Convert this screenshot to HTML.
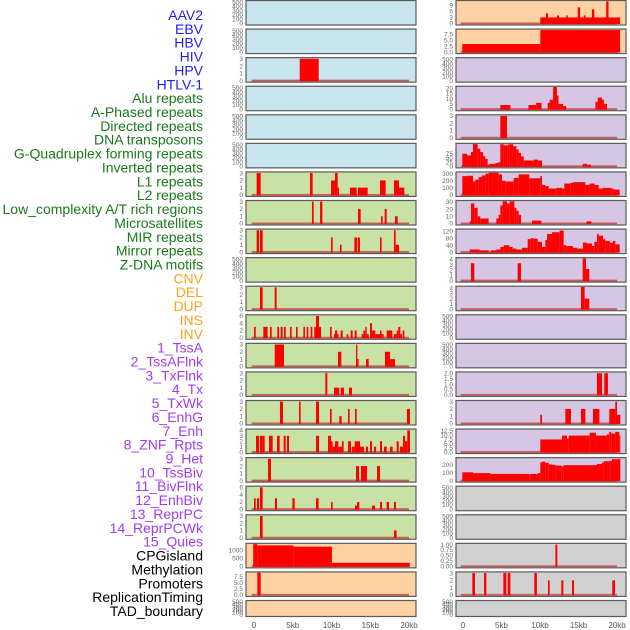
<!DOCTYPE html>
<html><head><meta charset="utf-8">
<style>
html,body{margin:0;padding:0;background:#fff;}
#wrap{position:relative;width:630px;height:630px;overflow:hidden;}
svg{position:absolute;left:0;top:0;}
</style></head>
<body>
<div id="wrap">
<svg id="chart" width="630" height="630" viewBox="0 0 630 630"></svg>
</div>
<script>
const labels = ["AAV2","EBV","HBV","HIV","HPV","HTLV-1","Alu repeats","A-Phased repeats","Directed repeats","DNA transposons","G-Quadruplex forming repeats","Inverted repeats","L1 repeats","L2 repeats","Low_complexity A/T rich regions","Microsatellites","MIR repeats","Mirror repeats","Z-DNA motifs","CNV","DEL","DUP","INS","INV","1_TssA","2_TssAFlnk","3_TxFlnk","4_Tx","5_TxWk","6_EnhG","7_Enh","8_ZNF_Rpts","9_Het","10_TssBiv","11_BivFlnk","12_EnhBiv","13_ReprPC","14_ReprPCWk","15_Quies","CPGisland","Methylation","Promoters","ReplicationTiming","TAD_boundary"];
const labelGroups = ["virus","virus","virus","virus","virus","virus","repeat","repeat","repeat","repeat","repeat","repeat","repeat","repeat","repeat","repeat","repeat","repeat","repeat","sv","sv","sv","sv","sv","chrom","chrom","chrom","chrom","chrom","chrom","chrom","chrom","chrom","chrom","chrom","chrom","chrom","chrom","chrom","other","other","other","other","other"];
const xTickLabels = ["0","5kb","10kb","15kb","20kb"];
const xTickValues = [0,5,10,15,20];
const emptyTicks = [0,100,200,300,400,500];

// bars: [startKb, endKb, value]
const L2 = [[5.9,8.35,3]];
const L6 = [[0.34,0.86,3],[7.23,7.57,3],[9.94,10.45,2],[10.45,10.8,3],[10.8,10.97,1],[12.39,13.25,1],[13.42,14.67,1],[16.26,16.99,2],[18.06,18.71,2],[18.71,19.4,1]];
const L7 = [[7.48,7.7,3],[8.52,8.82,3],[13.42,13.76,2],[16.39,16.6,1],[16.86,17.12,2],[18.19,18.54,1]];
const L8 = [[0.34,0.65,3],[0.77,1.12,3],[9.94,10.15,2],[11.1,11.31,1],[12.95,13.33,2],[13.42,13.68,2],[16.26,16.47,2],[18.06,18.28,3],[18.28,18.71,1]];
const L10 = [[0.77,1.12,3],[2.67,2.92,3]];
const L11 = [[0,0.22,3],[1.2,1.76,3],[2.06,2.28,3],[3.01,3.23,3],[3.44,3.7,3],[3.87,4.09,3],[4.65,4.86,3],[5.42,5.63,3],[6.37,6.58,3],[6.8,7.01,3],[7.31,7.53,3],[7.78,8.0,3],[8.0,8.39,6],[8.39,8.65,3],[9.81,10.02,3],[10.32,10.45,1],[10.45,10.75,2],[10.75,10.92,1],[11.18,11.44,2],[11.96,12.17,1],[12.47,12.73,2],[12.99,13.25,2],[13.89,14.11,1],[14.11,14.37,2],[14.37,14.54,3],[14.54,14.8,1],[14.97,15.23,4],[15.23,15.66,2],[15.66,16.26,1],[16.26,16.47,2],[16.47,16.73,1],[17.12,17.85,2],[18.06,18.41,1],[18.41,18.62,2],[18.62,18.88,3],[18.88,19.1,1],[19.18,19.4,2]];
const L12 = [[2.67,3.87,3],[10.84,11.27,2],[13.16,13.33,3],[13.33,13.5,1],[14.45,14.8,1],[16.9,17.55,2],[17.55,18.19,1]];
const L13 = [[9.2,9.46,3],[10.32,11.0,1],[11.18,11.61,1],[12.26,12.65,1]];
const L14 = [[3.35,3.74,3],[5.81,6.02,3],[8.0,8.39,3],[9.81,10.02,2],[11.01,11.31,1],[12.13,12.34,2],[13.03,13.25,2],[19.74,20.13,2]];
const L15 = [[0.26,0.65,3],[0.77,1.12,3],[1.12,1.38,3],[1.94,2.41,3],[2.97,3.31,3],[3.83,4.09,3],[4.26,4.52,3],[8.0,8.39,3],[9.55,9.94,3],[9.94,10.15,2],[10.15,10.45,1],[10.45,10.88,2],[10.88,11.1,1],[11.1,11.35,1],[11.35,11.57,2],[12.13,12.52,2],[12.65,12.99,1],[12.99,13.68,2],[13.68,14.19,1],[14.45,14.71,1],[14.97,15.23,2],[15.48,15.74,1],[16.26,16.52,2],[16.77,17.12,1],[17.55,17.89,1],[18.41,18.67,2],[18.84,19.23,1],[19.23,19.48,3],[19.48,19.78,2],[19.78,20.13,4]];
const L16 = [[1.81,2.19,3],[13.16,13.55,2],[13.81,14.58,2],[15.87,16.26,2]];
const L17 = [[0,0.22,3],[0.39,0.65,3],[0.77,1.12,6],[2.71,2.97,3],[4.95,5.25,3],[8.0,8.34,3],[9.94,10.15,2],[13.03,13.29,1],[13.29,13.59,2],[15.23,15.61,1],[16.26,16.52,2],[17.12,17.42,2],[18.06,18.32,2]];
const L18 = [[0.77,1.12,3],[18.06,18.4,1]];
const L19 = [[-0.1,0.43,1400],[0.43,5.08,1320],[5.08,10.06,1240],[10.06,20.1,220]];
const L20 = [[0.43,0.86,9.2]];

const R0 = [[10.04,20.4,3],[10.78,11.04,5],[12.2,12.47,4],[13.4,13.6,4],[14.9,15.2,8],[15.67,15.9,4],[16.75,17.06,7],[18.6,18.9,11]];
const R1 = [[-0.09,10.04,3.4],[10.04,20.4,9.3]];
const R3 = [[4.85,6.15,4],[8.5,9.5,4],[9.5,10.2,6],[11.0,11.25,6],[11.25,11.7,9],[11.7,12.2,21],[12.2,12.4,13],[12.4,13.0,5],[13.0,13.4,3],[17.2,17.5,7],[17.5,18.05,11],[18.05,18.3,9],[18.3,18.7,5]];
const R4 = [[4.85,5.71,3]];
const R5 = [[-0.09,0.52,75],[0.52,1.04,65],[1.04,1.3,85],[1.3,1.9,135],[1.9,2.25,105],[2.25,2.6,85],[2.6,2.9,60],[2.9,3.2,45],[3.2,3.46,10],[3.46,4.2,15],[4.2,4.63,20],[4.63,4.85,25],[4.85,5.28,135],[5.28,5.8,125],[5.8,6.06,130],[6.06,6.49,135],[6.49,6.93,120],[6.93,7.23,100],[7.23,7.53,80],[7.53,7.88,60],[7.88,9.18,35],[9.18,9.7,40],[9.7,10.26,35],[15.54,16.1,15],[16.1,16.62,10]];
const R6 = [[-0.09,0.52,265],[0.52,1.3,270],[1.3,1.6,190],[1.6,2.03,215],[2.03,2.47,250],[2.47,2.9,275],[2.9,3.33,300],[3.33,4.63,313],[4.63,5.06,290],[5.06,5.5,200],[5.5,6.58,190],[6.58,7.23,240],[7.23,8.61,290],[8.61,10.04,235],[10.04,10.26,265],[10.26,10.69,140],[10.69,11.13,125],[11.13,12.12,90],[12.12,12.86,100],[12.86,13.16,90],[13.16,13.94,160],[13.94,14.29,170],[14.29,15.89,180],[15.89,16.45,140],[16.45,17.1,160],[17.1,17.62,140],[17.62,18.18,90],[18.18,19.26,100],[19.26,19.57,90],[19.57,20.35,75]];
const R7 = [[0.87,1.04,3],[1.04,1.47,28],[1.47,1.9,22],[1.9,2.25,10],[2.25,3.33,7],[4.33,4.63,7],[4.63,4.85,12],[4.85,5.15,25],[5.15,5.71,31],[5.71,6.06,28],[6.06,6.67,31],[6.67,6.93,22],[6.93,7.23,18],[7.23,7.53,12],[8.96,10.17,4],[16.02,16.67,3]];
const R8 = [[0.87,2.16,15],[2.16,3.33,10],[3.64,4.33,10],[4.33,4.85,15],[4.85,5.28,30],[5.28,6.02,40],[6.02,6.45,30],[6.45,6.93,20],[6.93,7.66,15],[7.66,8.4,25],[8.4,8.74,75],[8.74,9.18,80],[9.18,9.7,78],[9.7,10.26,60],[10.26,10.69,30],[10.69,10.91,70],[10.91,11.56,105],[11.56,12.55,115],[12.55,13.07,125],[13.07,13.42,40],[13.42,14.29,35],[14.29,14.81,25],[14.81,15.58,20],[15.58,16.1,55],[16.1,16.75,50],[16.75,17.06,35],[17.06,17.4,60],[17.4,17.62,105],[17.62,18.18,95],[18.18,18.48,75],[18.48,19.05,65],[19.05,19.48,55],[19.48,19.78,65],[19.78,20.35,45]];
const R9 = [[1.04,1.47,3.3],[7.1,7.53,3.3],[15.54,15.97,4.2],[15.97,16.4,2.2]];
const R10 = [[15.32,15.8,4.2],[15.8,16.4,2]];
const R13 = [[17.4,18.05,2],[18.35,18.83,2]];
const R14 = [[10.04,10.26,1.2],[13.29,14.03,2],[15.32,15.89,2],[16.88,17.71,2],[19.0,19.78,2],[19.78,20.0,3],[20.0,20.43,1.2]];
const R15 = [[10.04,12.86,7.5],[12.86,13.5,9.8],[13.5,13.72,8],[13.72,16.45,9.8],[16.45,17.27,11.5],[17.27,18.7,9.8],[18.7,19.0,10.5],[19.0,19.26,12],[19.26,19.78,11],[19.78,20.3,12],[20.3,20.43,9.8]];
const R16 = [[-0.09,1.3,105],[1.3,3.55,95],[3.55,8.61,85],[8.61,8.74,75],[8.74,9.74,85],[9.74,10.04,95],[10.04,10.26,230],[10.26,10.69,240],[10.69,11.13,225],[11.13,11.56,205],[11.56,12.0,200],[12.0,12.77,190],[12.77,13.07,180],[13.07,17.4,195],[17.4,18.05,210],[18.05,18.27,230],[18.27,19.13,245],[19.13,19.35,250],[19.35,20.43,270]];
const R19 = [[12.0,12.25,1]];
const R20 = [[1.21,1.56,3],[2.73,3.03,3],[5.24,5.63,3],[5.8,6.15,3],[9.26,9.6,3],[11.04,11.26,2],[12.77,13.03,2],[14.16,14.42,2],[19.39,19.74,2]];

// panel spec: [column, row, bg, yMax, ticks, bars]
const panels = [
 ["L",0,"blue",520,emptyTicks,null],["L",1,"blue",520,emptyTicks,null],["L",2,"blue",3.05,[0,1,2,3],L2],["L",3,"blue",520,emptyTicks,null],["L",4,"blue",520,emptyTicks,null],["L",5,"blue",520,emptyTicks,null],
 ["L",6,"green",3.05,[0,1,2,3],L6],["L",7,"green",3.05,[0,1,2,3],L7],["L",8,"green",3.05,[0,1,2,3],L8],["L",9,"green",520,emptyTicks,null],["L",10,"green",3.05,[0,1,2,3],L10],["L",11,"green",6.1,[0,2,4,6],L11],["L",12,"green",3.05,[0,1,2,3],L12],["L",13,"green",3.05,[0,1,2,3],L13],["L",14,"green",3.05,[0,1,2,3],L14],["L",15,"green",4.1,[0,1,2,3,4],L15],["L",16,"green",3.05,[0,1,2,3],L16],["L",17,"green",6.1,[0,2,4,6],L17],["L",18,"green",3.05,[0,1,2,3],L18],
 ["L",19,"orange",1400,[0,500,1000],L19],["L",20,"orange",9.2,[0,2.5,5,7.5],L20],["L",21,"orange",520,emptyTicks,null],
 ["R",0,"orange",11,[0,3,6,9],R0],["R",1,"orange",9.4,[0,2.5,5,7.5],R1],["R",2,"purple",520,emptyTicks,null],["R",3,"purple",21,[0,5,10,15,20],R3],["R",4,"purple",3.05,[0,1,2,3],R4],["R",5,"purple",132,[0,25,50,75],R5],["R",6,"purple",313,[0,100,200,300],R6],["R",7,"purple",31,[0,10,20,30],R7],["R",8,"purple",129,[0,40,80,120],R8],["R",9,"purple",4.2,[0,1,2,3,4],R9],["R",10,"purple",4.2,[0,1,2,3,4],R10],["R",11,"purple",520,emptyTicks,null],["R",12,"purple",520,emptyTicks,null],["R",13,"purple",2.05,[0,0.5,1,1.5,2],R13],["R",14,"purple",3.05,[0,1,2,3],R14],["R",15,"purple",13.2,[0,2.5,5,7.5,10,12.5],R15],["R",16,"purple",280,[0,100,200],R16],
 ["R",17,"gray",520,emptyTicks,null],["R",18,"gray",520,emptyTicks,null],["R",19,"gray",1.02,[0,0.25,0.5,0.75,1],R19],["R",20,"gray",3.05,[0,1,2,3],R20],["R",21,"gray",520,emptyTicks,null]
];

const NS="http://www.w3.org/2000/svg";
const svg=document.getElementById('chart');
const bgColors={blue:"#c8e4ec",green:"#c8e2a5",orange:"#fdd1a2",purple:"#d6c6e3",gray:"#d1d1d1"};
const labelColors={virus:"#1f1ff2",repeat:"#1a7a1a",sv:"#ffa31a",chrom:"#a23cf0",other:"#000"};
const colGeom={L:{x0:246,x1:416,z:254,t:409},R:{x0:456,x1:626,z:463,t:617}};
function xScale(col,kb){const g=colGeom[col];return g.z+(g.t-g.z)*kb/20;}
function rowTop(r){return r===21?600.5:0.5+r*28.57;}
function rowH(r){return r===21?16:24.5;}
function fmt(v,ticks){const dec=ticks.some(t=>t%1!==0);if(!dec)return String(v);return v.toFixed(ticks.includes(0.25)?2:1);}
function mk(tag,attrs){const e=document.createElementNS(NS,tag);for(const k in attrs)e.setAttribute(k,attrs[k]);return e;}

labels.forEach((t,i)=>{
  const e=mk('text',{x:203,y:20+i*13.86,'text-anchor':'end','font-family':'Liberation Sans, sans-serif','font-size':'14',fill:labelColors[labelGroups[i]]});
  
  
  e.textContent=t;svg.appendChild(e);
});

panels.forEach((p,pi)=>{
  const [col,row,bg,yMax,ticks,bars]=p;
  const g=colGeom[col];const top=rowTop(row),h=rowH(row);
  const grp=mk('g',{});
  
  
  svg.appendChild(grp);
  const bot=top+h-1.5, tp=top+0.8;
  const yS=v=>bot-(bot-tp)*Math.min(v,yMax)/yMax;
  const r=mk('rect',{x:g.x0,y:top,width:g.x1-g.x0,height:h,fill:bgColors[bg],stroke:'#5a5a5a','stroke-width':'1.2'});
  
  
  grp.appendChild(r);
  const cid='clip'+pi;
  const cp=mk('clipPath',{id:cid});cp.appendChild(mk('rect',{x:g.x0+0.6,y:top+0.6,width:g.x1-g.x0-1.2,height:h-1.2}));grp.appendChild(cp);
  const inner=mk('g',{'clip-path':'url(#'+cid+')'});grp.appendChild(inner);
  if(bars){
    const bl=mk('rect',{x:xScale(col,-0.3),y:bot-1,width:xScale(col,20)-xScale(col,-0.3),height:2,fill:'#c04040',opacity:'0.8'});
    
    
    inner.appendChild(bl);
    bars.forEach(b=>{
      const x0=xScale(col,b[0]),x1=xScale(col,b[1]),y=yS(b[2]);
      const br=mk('rect',{x:x0,y:y,width:Math.max(x1-x0,1),height:bot+0.5-y,fill:'#ff0000'});
      
      
      inner.appendChild(br);
    });
  }
  ticks.forEach(t=>{
    const e=mk('text',{x:g.x0-3,y:yS(t)+2.2,'text-anchor':'end','font-family':'Liberation Sans, sans-serif','font-size':'6.5',fill:'#6a6a6a'});
    
    
    e.textContent=fmt(t,ticks);grp.appendChild(e);
  });
});

['L','R'].forEach(col=>{
  xTickValues.forEach((v,i)=>{
    const e=mk('text',{x:xScale(col,v),y:628,'text-anchor':'middle','font-family':'Liberation Sans, sans-serif','font-size':'8',fill:'#555'});
    
    
    e.textContent=xTickLabels[i];svg.appendChild(e);
  });
});
</script>
</body></html>
